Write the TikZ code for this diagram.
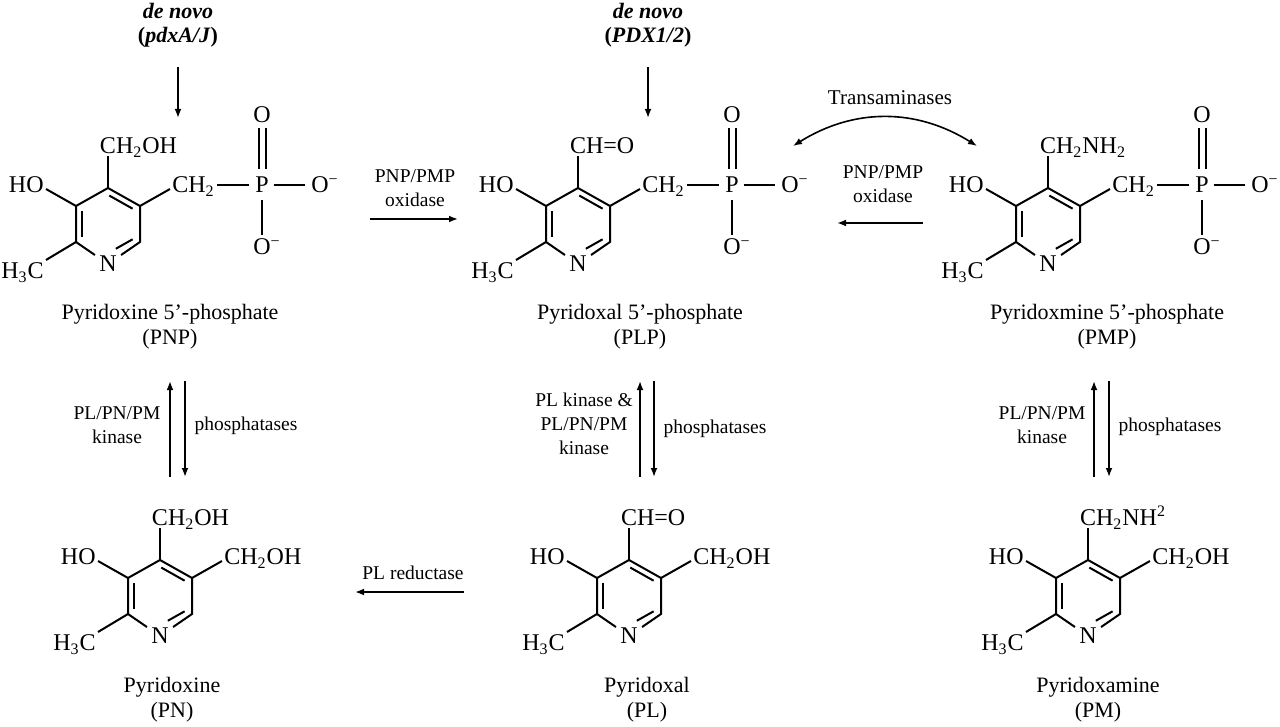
\documentclass[tikz,border=0pt]{standalone}
\usepackage{fontspec}
\setmainfont{Liberation Serif}
\usetikzlibrary{arrows.meta,calc}
\tikzstyle{atom}=[inner sep=0pt, text height=7.9pt, text depth=0pt, font=\fontsize{12}{14}\selectfont]
\tikzstyle{bond}=[line width=1pt]
\tikzstyle{rxn}=[line width=0.8pt, -{Latex[length=4.5pt,width=3.4pt]}]
\tikzstyle{enzyme}=[align=center, inner sep=0pt, font=\fontsize{9.75}{12}\selectfont]
\tikzstyle{compound}=[align=center, inner sep=0pt, font=\fontsize{11}{12.5}\selectfont]
\newcommand{\atom}{\node[atom]}

%% pyridine ring with HO and H3C: #1 name, #2 centre, #3 top group, #4 right group
\newcommand{\pyridine}[4]{%
  \coordinate (#1) at #2;
  \coordinate (#1-c4) at ($(#1)+(0,-36)$);
  \coordinate (#1-c3) at ($(#1)+(-32,-18)$);
  \coordinate (#1-c2) at ($(#1)+(-32,18)$);
  \coordinate (#1-n1) at ($(#1)+(0,36)$);
  \coordinate (#1-c6) at ($(#1)+(32,18)$);
  \coordinate (#1-c5) at ($(#1)+(32,-18)$);
  \coordinate (#1-b3) at ($(#1)+(-62,-35)$);
  \coordinate (#1-b2) at ($(#1)+(-62,36)$);
  \coordinate (#1-b5) at ($(#1)+(62,-35)$);
  \atom (#1-n) [inner sep=2pt] at ($(#1)+(0,40)$) {N};
  \atom (#1-top) [anchor=south] at ($(#1)+(0,-70)$) {C\rlap{#3}};
  \atom (#1-right) [anchor=west] at ($(#1)+(64,-39)$) {#4};
  \atom (#1-ho) [anchor=east] at ($(#1)+(-64,-39)$) {HO};
  \atom (#1-me) [anchor=east] at ($(#1)+(-64,47)$) {H\textsubscript{3}C};
  %% ring
  \draw[bond] (#1-c4) -- (#1-c3) -- (#1-c2) -- (#1-n);
  \draw[bond] (#1-n) -- (#1-c6) -- (#1-c5) -- (#1-c4);
  \draw[bond, shorten <=0.75pt, shorten >=0.75pt] ($(#1)!0.81!(#1-c3)$) -- ($(#1)!0.81!(#1-c2)$);
  \draw[bond, shorten <=0.75pt, shorten >=0.75pt] ($(#1)!0.81!(#1-c4)$) -- ($(#1)!0.81!(#1-c5)$);
  \draw[bond, shorten <=0.75pt, shorten >=4.5pt] ($(#1)!0.81!(#1-c6)$) -- ($(#1)!0.81!(#1-n1)$);
  %% substituents
  \draw[bond, shorten >=1pt] (#1-c4) -- (#1-top);
  \draw[bond] (#1-c3) -- (#1-b3);
  \draw[bond] (#1-c2) -- (#1-b2);
  \draw[bond] (#1-c5) -- (#1-b5);
}

%% phosphate on the right CH2 of ring #1
\newcommand{\phosphate}[1]{%
  \atom (#1-p) at ($(#1)+(154,-39)$) {P};
  \atom (#1-o1) at ($(#1)+(212,-39)$) {O\rlap{\textsuperscript{−}}};
  \atom (#1-o2) at ($(#1)+(154,-109)$) {O};
  \atom (#1-o3) at ($(#1)+(154,23)$) {O\rlap{\textsuperscript{−}}};
  \draw[bond, shorten <=1pt, shorten >=2.75pt] (#1-right) -- (#1-p);
  \draw[bond, shorten <=2.25pt, shorten >=3pt] (#1-p) -- (#1-o1);
  \draw[bond, shorten <=4pt, shorten >=2.5pt] ([xshift=-1.75pt]#1-p.north) -- ([xshift=-1.75pt]#1-o2.south);
  \draw[bond, shorten <=4pt, shorten >=2.5pt] ([xshift=1.75pt]#1-p.north) -- ([xshift=1.75pt]#1-o2.south);
  \draw[bond, shorten <=3.5pt, shorten >=2pt] (#1-p) -- (#1-o3);
}

\begin{document}
\begin{tikzpicture}[x=0.5pt, y=-0.5pt]
	\useasboundingbox[fill=white] (0,0) rectangle (1280,727);
	%% the phosphorylated vitamers
	\pyridine{pnp}{(108,224)}{H\textsubscript{2}OH}{CH\textsubscript{2}}
	\phosphate{pnp}
	\pyridine{plp}{(578,224)}{H=O}{CH\textsubscript{2}}
	\phosphate{plp}
	\pyridine{pmp}{(1048,224)}{H\textsubscript{2}NH\textsubscript{2}}{CH\textsubscript{2}}
	\phosphate{pmp}
	%% the free vitamers
	\pyridine{pn}{(160,596)}{H\textsubscript{2}OH}{CH\textsubscript{2}OH}
	\pyridine{pl}{(629,596)}{H=O}{CH\textsubscript{2}OH}
	\pyridine{pm}{(1088,596)}{H\textsubscript{2}NH\textsuperscript{2}}{CH\textsubscript{2}OH}
	%% names
	\node[compound] (pnp-name) at (170,327) {Pyridoxine 5’-phosphate\\(PNP)};
	\node[compound] (plp-name) at (640,327) {Pyridoxal 5’-phosphate\\(PLP)};
	\node[compound] (pmp-name) at (1107,327) {Pyridoxmine 5’-phosphate\\(PMP)};
	\node[compound] (pn-name) at (172,700) {Pyridoxine\\(PN)};
	\node[compound] (pl-name) at (647,700) {Pyridoxal\\(PL)};
	\node[compound] (pm-name) at (1098,700) {Pyridoxamine\\(PM)};
	%% de novo synthesis
	\node[compound, font=\fontsize{11}{12}\selectfont\bfseries] (dn1) at (178,25) {\textit{de novo}\\(\textit{pdxA/J})};
	\node[compound, font=\fontsize{11}{12}\selectfont\bfseries] (dn2) at (648,25) {\textit{de novo}\\(\textit{PDX1/2})};
	\coordinate (dn1a) at (178,67); \coordinate (dn1b) at (178,118);
	\coordinate (dn2a) at (648,67); \coordinate (dn2b) at (648,118);
	\draw[rxn] (dn1a) -- (dn1b);
	\draw[rxn] (dn2a) -- (dn2b);
	%% oxidase and transaminases
	\node[enzyme] (ox1) at (415,188) {PNP/PMP\\oxidase};
	\node[enzyme] (ox2) at (883,184) {PNP/PMP\\oxidase};
	\coordinate (ox1a) at (370,219); \coordinate (ox1b) at (458,219);
	\coordinate (ox2a) at (923,223); \coordinate (ox2b) at (837,223);
	\draw[rxn] (ox1a) -- (ox1b);
	\draw[rxn] (ox2a) -- (ox2b);
	\node[enzyme, font=\fontsize{10.5}{12}\selectfont] (trans) at (890,98) {Transaminases};
	\coordinate (ta1) at (793,146); \coordinate (ta2) at (977,146);
	\draw[rxn, {Latex[length=4.5pt,width=3.4pt]}-{Latex[length=4.5pt,width=3.4pt]}] (ta1) to[bend left=32] (ta2);
	%% kinases and phosphatases
	\node[enzyme] (kin1) at (117,425) {PL/PN/PM\\kinase};
	\node[enzyme] (pho1) at (246,426) {phosphatases};
	\node[enzyme] (kin2) at (584,424) {PL kinase \&\\PL/PN/PM\\kinase};
	\node[enzyme] (pho2) at (715,429) {phosphatases};
	\node[enzyme] (kin3) at (1042,425) {PL/PN/PM\\kinase};
	\node[enzyme] (pho3) at (1170,427) {phosphatases};
	\coordinate (k1a) at (170,477); \coordinate (k1b) at (170,381);
	\coordinate (p1a) at (185,381); \coordinate (p1b) at (185,477);
	\coordinate (k2a) at (640,477); \coordinate (k2b) at (640,381);
	\coordinate (p2a) at (654,381); \coordinate (p2b) at (654,477);
	\coordinate (k3a) at (1094,477); \coordinate (k3b) at (1094,381);
	\coordinate (p3a) at (1109,381); \coordinate (p3b) at (1109,477);
	\draw[rxn] (k1a) -- (k1b);
	\draw[rxn] (p1a) -- (p1b);
	\draw[rxn] (k2a) -- (k2b);
	\draw[rxn] (p2a) -- (p2b);
	\draw[rxn] (k3a) -- (k3b);
	\draw[rxn] (p3a) -- (p3b);
	%% reductase
	\node[enzyme] (red) at (413,573) {PL reductase};
	\coordinate (reda) at (464,592); \coordinate (redb) at (355,592);
	\draw[rxn] (reda) -- (redb);
\end{tikzpicture}
\end{document}
